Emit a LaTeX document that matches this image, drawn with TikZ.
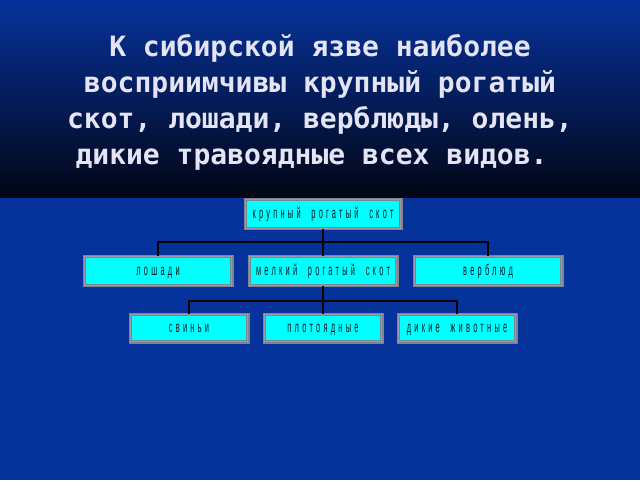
\documentclass[tikz,border=0pt]{standalone}
\usepackage{fontspec}
\newfontfamily\headfont{DejaVu Sans Mono}
\newfontfamily\boxfont[FakeStretch=0.48,LetterSpace=21]{Liberation Sans}
\usetikzlibrary{positioning}

\definecolor{slideblue}{RGB}{6,50,155}
\definecolor{darkband}{RGB}{2,6,22}
\definecolor{headtext}{RGB}{228,228,244}
\definecolor{boxcyan}{RGB}{0,255,255}
\definecolor{framegray}{RGB}{120,135,145}
\definecolor{framepink}{RGB}{165,150,165}
\definecolor{boxtext}{RGB}{0,25,30}

\tikzset{
  kind/.style={rectangle, fill=boxcyan, draw=framegray, double=framepink,
    double distance=0.8pt, line width=1.3pt, inner sep=0pt,
    minimum height=28.6pt, text=boxtext, text height=8.5pt, text depth=0pt,
    font=\boxfont\fontsize{15.5}{15.5}\selectfont},
  wire/.style={draw=black, line width=1.3pt},
  title/.style={align=center, text=headtext,
    font=\headfont\bfseries\fontsize{28}{36}\selectfont},
}

\begin{document}
\begin{tikzpicture}[x=1pt, y=-1pt, node distance=57pt]
  \useasboundingbox (0,0) rectangle (640,480);
  % slide background
  \fill[slideblue] (0,0) rectangle (640,480);
  \shade[top color=slideblue, bottom color=darkband] (0,0) rectangle (640,197);

  \node[title] (head) at (320,102) {К сибирской язве наиболее\\
    восприимчивы крупный рогатый\\
    скот, лошади, верблюды, олень,\\
    дикие травоядные всех видов.\phantom{.}};

  % tree of animals
  \node[kind, minimum width=155.6pt] (cattle) at (323,214) {крупный~ рогатый~ скот};
  \node[kind, minimum width=147.6pt, below of=cattle] (sheep) {мелкий~ рогатый~ скот};
  \node[kind, minimum width=147.6pt, left of=sheep, node distance=165pt] (horses) {лошади};
  \node[kind, minimum width=147.6pt, right of=sheep, node distance=165pt] (camel) {верблюд};
  \node[kind, minimum width=117.6pt, minimum height=27.6pt, below of=sheep] (carn) {плотоядные};
  \node[kind, minimum width=117.6pt, minimum height=27.6pt, left of=carn, node distance=134pt] (pigs) {свиньи};
  \node[kind, minimum width=117.6pt, minimum height=27.6pt, right of=carn, node distance=134pt] (wild) {дикие~ животные};

  \coordinate (bus1) at (323,242);
  \coordinate (bus2) at (323,301);
  \draw[wire] (cattle) -- (sheep);
  \draw[wire] (horses.north) |- (bus1) -| (camel.north);
  \draw[wire] (sheep) -- (carn);
  \draw[wire] (pigs.north) |- (bus2) -| (wild.north);
\end{tikzpicture}
\end{document}
